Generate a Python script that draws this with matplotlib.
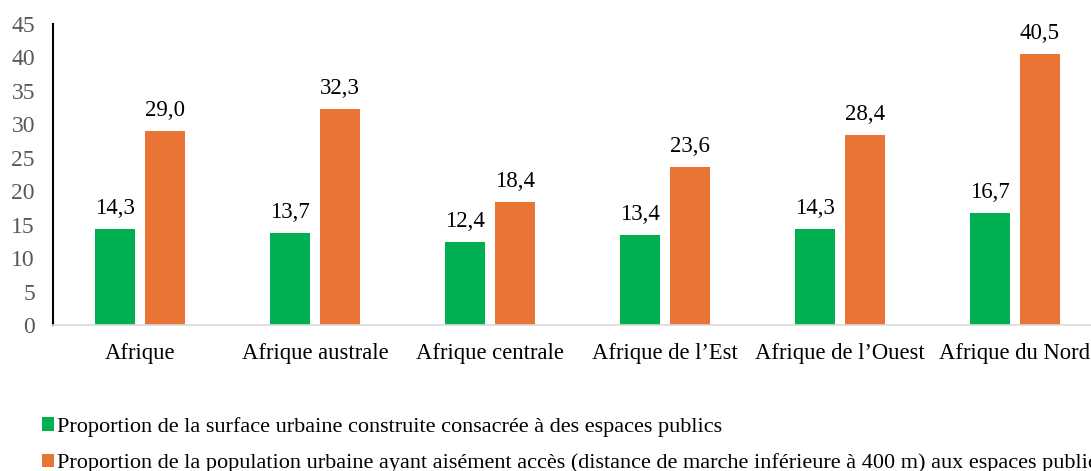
import matplotlib.pyplot as plt
import numpy as np

plt.rcParams['font.family'] = ['Liberation Serif', 'DejaVu Serif']

regions = ['Afrique', 'Afrique australe', 'Afrique centrale', "Afrique de l\u2019Est",
           "Afrique de l\u2019Ouest", 'Afrique du Nord']
surface = [14.3, 13.7, 12.4, 13.4, 14.3, 16.7]
population = [29.0, 32.3, 18.4, 23.6, 28.4, 40.5]
labels = ['Proportion de la surface urbaine construite consacrée à des espaces publics',
          'Proportion de la population urbaine ayant aisément accès (distance de marche '
          'inférieure à 400 m) aux espaces publics']

fig = plt.figure(figsize=(10.91, 4.71), dpi=100)
# axes run past the right edge, as in the original crop
ax = fig.add_axes([53 / 1091, 1 - 325 / 471, 1049 / 1091, 301 / 471])

x = np.arange(len(regions))
w = 0.229
b1 = ax.bar(x - 0.143, surface, w, color='#00B050', label=labels[0])
b2 = ax.bar(x + 0.143, population, w, color='#EA7435', label=labels[1])

for bars, vals in ((b1, surface), (b2, population)):
    for r, v in zip(bars, vals):
        ax.text(r.get_x() + r.get_width() / 2, v + 1.5, f'{v:.1f}'.replace('.', ','),
                ha='center', va='bottom', fontsize=16.5, color='black')

ax.set_xlim(-0.5, 5.5)
ax.set_ylim(0, 45)
ax.set_yticks(range(0, 46, 5))
ax.set_xticks(x)
ax.set_xticklabels(regions, fontsize=16.3)
ax.tick_params(axis='y', length=0, labelsize=17, labelcolor='#595959', pad=13)
ax.tick_params(axis='x', length=0, pad=13)
for s in ('top', 'right'):
    ax.spines[s].set_visible(False)
ax.spines['left'].set_color('black')
ax.spines['left'].set_linewidth(1.5)
ax.spines['bottom'].set_color('#D9D9D9')
ax.spines['bottom'].set_linewidth(1.2)

fig.legend(handles=[b1, b2], loc='upper left', bbox_to_anchor=(33 / 1091, 1 - 408 / 471),
           frameon=False, fontsize=16, handlelength=0.55, handleheight=0.55,
           handletextpad=0.15, labelspacing=0.75, borderaxespad=0)

fig.savefig('out.png', dpi=100)
